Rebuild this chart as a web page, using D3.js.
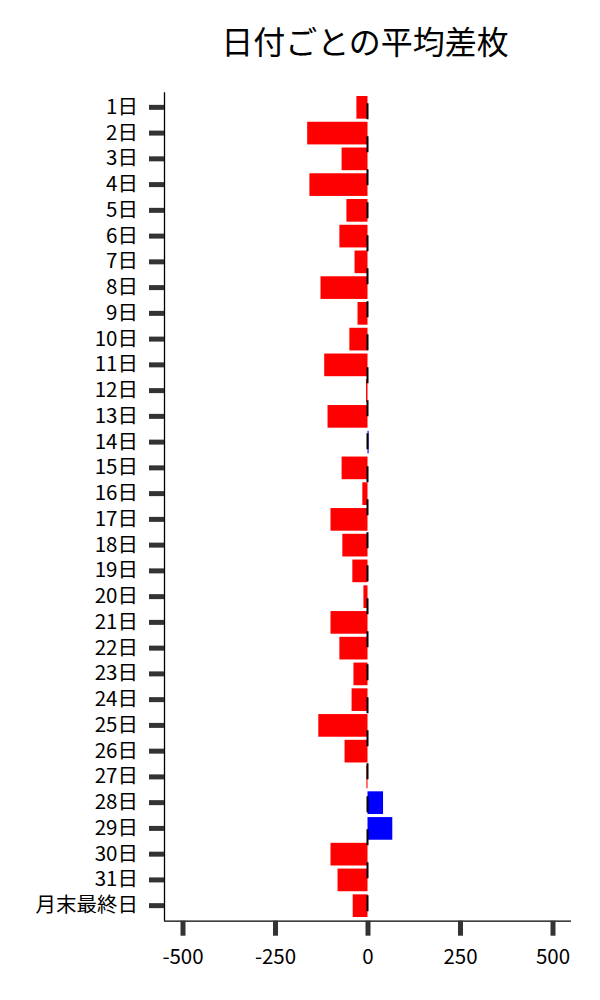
<!DOCTYPE html>
<html>
<head>
<meta charset="utf-8">
<script src="https://cdn.jsdelivr.net/npm/d3@7"></script>
<style>
  body { margin: 0; background: #fff; }
  text { font-family: "Noto Sans CJK JP", "Noto Sans", sans-serif; }
</style>
</head>
<body>
<div id="chart"></div>
<script>
var width = 600,
    height = 1000,
    margin = {top: 92.3, bottom: 79.3, left: 164, right: 29};

var days = ["1日","2日","3日","4日","5日","6日","7日","8日","9日","10日",
            "11日","12日","13日","14日","15日","16日","17日","18日","19日","20日",
            "21日","22日","23日","24日","25日","26日","27日","28日","29日","30日",
            "31日","月末最終日"];
var avgDiff = [-30,-163,-70,-157,-57,-76,-35,-127,-27,-49,
               -117,-4,-108,3,-70,-14,-100,-68,-41,-11,
               -100,-76,-38,-43,-133,-62,-3,42,67,-100,
               -81,-40];
var xTicks = [-500,-250,0,250,500];

var svg = d3.select("#chart")
    .append("svg")
    .attr("width", width)
    .attr("height", height);

var x = d3.scaleLinear()
    .domain([-550, 550])
    .range([margin.left, width - margin.right]);

var y = d3.scaleBand()
    .domain(days)
    .range([margin.top, height - margin.bottom])
    .paddingInner(0.12)
    .paddingOuter(0.144);

// bars
svg.append("g")
    .selectAll("rect")
    .data(days)
    .join("rect")
    .attr("x", function(d, i) { return Math.min(x(0), x(avgDiff[i])); })
    .attr("y", function(d) { return y(d); })
    .attr("width", function(d, i) { return Math.max(0.8, Math.abs(x(avgDiff[i]) - x(0))); })
    .attr("height", y.bandwidth())
    .attr("fill", function(d, i) { return avgDiff[i] >= 0 ? "#0000ff" : "#ff0000"; });

// dashed zero line
svg.append("line")
    .attr("x1", x(0)).attr("x2", x(0))
    .attr("y1", margin.top).attr("y2", height - margin.bottom)
    .attr("stroke", "#000")
    .attr("stroke-width", 2)
    .attr("stroke-dasharray", "16,17")
    .attr("stroke-dashoffset", 22);

// y axis
var yAxis = svg.append("g")
    .attr("transform", "translate(" + margin.left + ",0)")
    .call(d3.axisLeft(y).tickSize(15).tickPadding(11));
yAxis.select(".domain").attr("stroke", "#000").attr("stroke-width", 1.3)
    .attr("d", "M0.5," + margin.top + "V" + (height - margin.bottom));
yAxis.selectAll(".tick line").attr("stroke", "#333").attr("stroke-width", 5);
yAxis.selectAll(".tick text").attr("fill", "#000").style("font-size", "20.5px");

// x axis
var xAxis = svg.append("g")
    .attr("transform", "translate(0," + (height - margin.bottom) + ")")
    .call(d3.axisBottom(x).tickValues(xTicks).tickSize(15).tickPadding(14)
        .tickFormat(function(d) { return String(d); }));
xAxis.select(".domain").attr("stroke", "#000").attr("stroke-width", 1.3)
    .attr("d", "M" + margin.left + ",0.5H" + (width - margin.right));
xAxis.selectAll(".tick line").attr("stroke", "#333").attr("stroke-width", 5);
xAxis.selectAll(".tick text").attr("fill", "#000").style("font-size", "20.5px");

// title
svg.append("text")
    .attr("x", 365)
    .attr("y", 54)
    .attr("text-anchor", "middle")
    .style("font-size", "32px")
    .attr("fill", "#000")
    .text("日付ごとの平均差枚");
</script>
</body>
</html>
